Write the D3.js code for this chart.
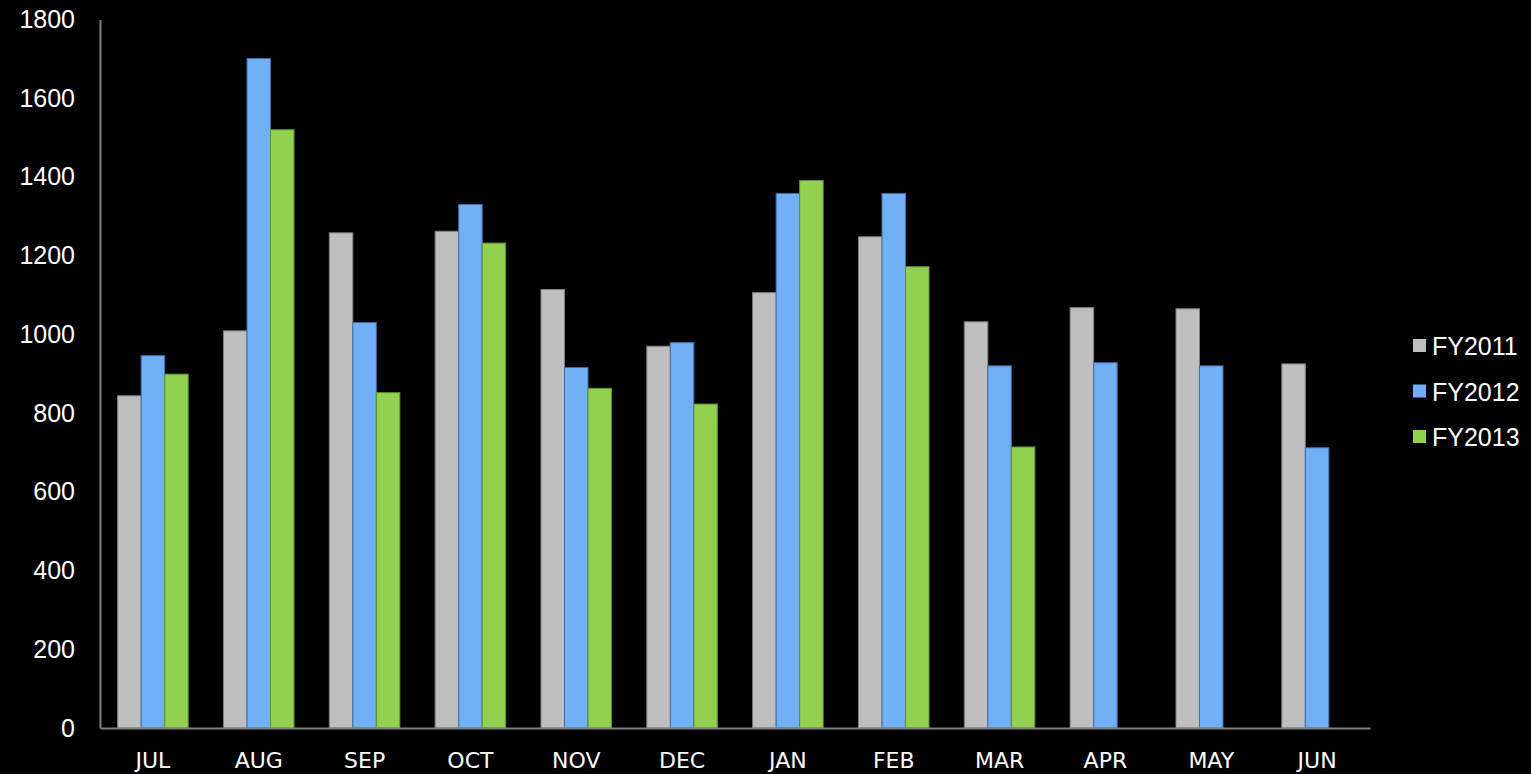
<!DOCTYPE html>
<html>
<head>
<meta charset="utf-8">
<script src="https://cdn.jsdelivr.net/npm/d3@7"></script>
<style>
  html, body { margin: 0; padding: 0; background: #000; }
  svg { display: block; }
</style>
</head>
<body>
<svg id="chart" width="1531" height="774"></svg>
<script>
// Monthly totals by fiscal year
const months = ["JUL", "AUG", "SEP", "OCT", "NOV", "DEC", "JAN", "FEB", "MAR", "APR", "MAY", "JUN"];
const seriesNames = ["FY2011", "FY2012", "FY2013"];
const fy2011 = [844, 1009, 1258, 1262, 1114, 970, 1106, 1248, 1032, 1068, 1065, 925];
const fy2012 = [946, 1701, 1030, 1330, 916, 979, 1358, 1358, 920, 928, 920, 712];
const fy2013 = [899, 1520, 852, 1232, 863, 823, 1391, 1172, 714, null, null, null];
const yTicks = [0, 200, 400, 600, 800, 1000, 1200, 1400, 1600, 1800];

const fills = ["#bfbfbf", "#71b0f7", "#92d050"];
const strokes = ["#7f7f7f", "#3d6fa8", "#5f8f34"];
const seriesValues = [fy2011, fy2012, fy2013];

const svg = d3.select("#chart");
const margin = { left: 100, right: 161, top: 19.5, bottom: 46 };
const W = 1531, H = 774;
const innerW = W - margin.left - margin.right;
const innerH = H - margin.top - margin.bottom;

const g = svg.append("g").attr("transform", `translate(${margin.left},${margin.top})`);

const x0 = d3.scaleBand().domain(months).range([0, innerW]).paddingInner(1 / 3).paddingOuter(1 / 6);
const x1 = d3.scaleBand().domain(seriesNames).range([0, x0.bandwidth()]);
const y = d3.scaleLinear().domain([0, 1800]).range([innerH, 0]);

// Bars
seriesNames.forEach((name, si) => {
  g.append("g")
    .selectAll("rect")
    .data(months.map((m, i) => ({ m, v: seriesValues[si][i] })).filter(d => d.v != null))
    .join("rect")
    .attr("x", d => x0(d.m) + x1(name))
    .attr("y", d => y(d.v))
    .attr("width", x1.bandwidth())
    .attr("height", d => innerH - y(d.v))
    .attr("fill", fills[si])
    .attr("stroke", strokes[si])
    .attr("stroke-width", 1);
});

// Y axis
const yAxis = g.append("g")
  .call(d3.axisLeft(y).tickValues(yTicks).tickFormat(d3.format("d")).tickSize(0).tickPadding(25));
yAxis.select(".domain").attr("stroke", "#808080").attr("stroke-width", 2);
yAxis.selectAll("text")
  .attr("fill", "#ffffff")
  .style("font-family", "'Liberation Sans', Arial, sans-serif")
  .style("font-size", "25px");

// X axis
const xAxis = g.append("g")
  .attr("transform", `translate(0,${innerH})`)
  .call(d3.axisBottom(x0).tickSize(0).tickPadding(24));
xAxis.select(".domain").attr("stroke", "#808080").attr("stroke-width", 2);
xAxis.selectAll("text")
  .attr("fill", "#ffffff")
  .style("font-family", "'DejaVu Sans', sans-serif")
  .style("font-size", "22px");

// Legend
const legend = svg.append("g").attr("transform", "translate(1413,346)");
seriesNames.forEach((name, i) => {
  const row = legend.append("g").attr("transform", `translate(0,${i * 45.5})`);
  row.append("rect").attr("x", 0).attr("y", -7).attr("width", 13).attr("height", 13).attr("fill", fills[i]);
  row.append("text")
    .attr("x", 19)
    .attr("y", 0)
    .attr("dy", "0.36em")
    .attr("fill", "#ffffff")
    .style("font-family", "'Liberation Sans', Arial, sans-serif")
    .style("font-size", "25px")
    .text(name);
});
</script>
</body>
</html>
